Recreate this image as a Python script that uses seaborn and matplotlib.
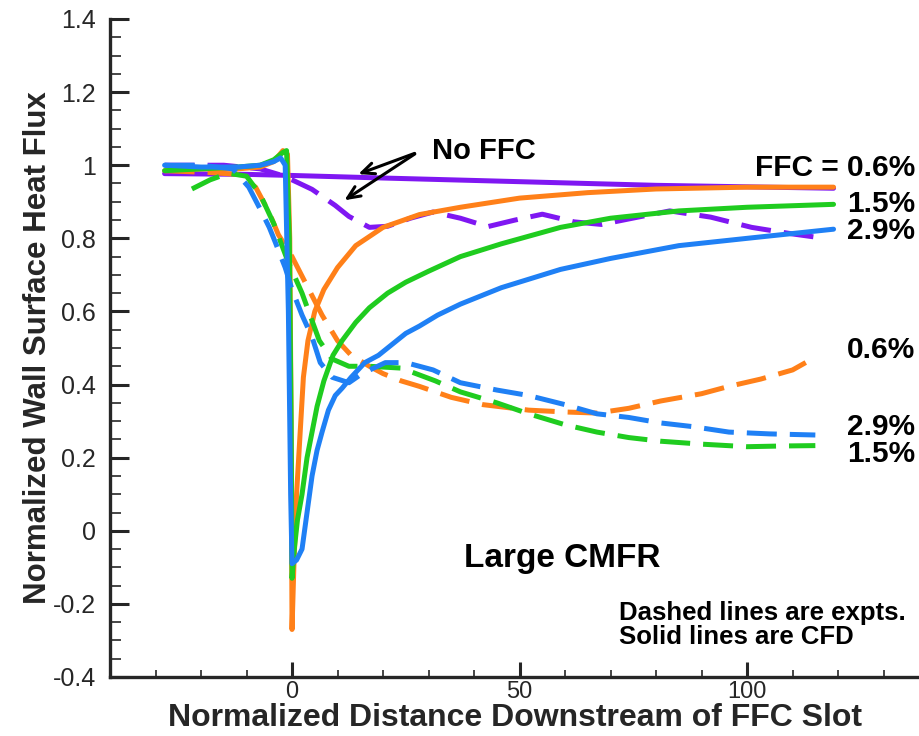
import numpy as np
import pandas as pd
import seaborn as sns
import matplotlib
matplotlib.use("Agg")
import matplotlib.pyplot as plt
from matplotlib.ticker import MultipleLocator, FixedLocator

# ---- CFD (solid) ----
nof_cfd_x = [-28, -10, 0, 20, 50, 80, 119]
nof_cfd_y = [0.977, 0.975, 0.972, 0.965, 0.955, 0.945, 0.937]

f06_cfd_x = [-28, -20, -12, -7, -4, -2, -1, -0.5, -0.2, 0, 0.4, 1, 1.7, 2.5, 3.5, 5, 7, 10, 14, 20, 28, 37, 50, 65, 80, 100, 119]
f06_cfd_y = [0.985, 0.99, 0.99, 0.995, 1.01, 1.04, 1.03, 0.8, 0.3, -0.27, -0.1, 0.1, 0.25, 0.42, 0.52, 0.6, 0.66, 0.72, 0.78, 0.83, 0.865, 0.885, 0.91, 0.925, 0.935, 0.94, 0.94]

f15_cfd_x = [-28, -20, -12, -7, -4, -2, -1.2, -0.6, -0.2, 0, 0.5, 1.2, 2.2, 3.3, 4.4, 5.5, 7, 9, 11, 14, 17, 21, 25, 30, 37, 46, 59, 70, 85, 100, 119]
f15_cfd_y = [0.985, 0.99, 0.995, 1.0, 1.015, 1.035, 1.04, 0.8, 0.3, -0.13, -0.05, 0.03, 0.1, 0.2, 0.27, 0.34, 0.41, 0.48, 0.52, 0.57, 0.61, 0.65, 0.68, 0.71, 0.75, 0.785, 0.83, 0.855, 0.875, 0.885, 0.893]

f29_cfd_x = [-28, -20, -12, -7, -4, -2.5, -1.5, -0.8, -0.3, 0, 1, 2.2, 3.3, 4.4, 5.5, 6.6, 8, 9.5, 11, 13, 16, 19, 22, 25, 28, 32, 37, 46, 59, 70, 85, 100, 119]
f29_cfd_y = [1.0, 0.995, 0.995, 1.0, 1.01, 1.02, 1.0, 0.6, 0.1, -0.09, -0.08, -0.05, 0.05, 0.15, 0.22, 0.27, 0.33, 0.37, 0.39, 0.42, 0.46, 0.48, 0.51, 0.54, 0.56, 0.59, 0.62, 0.665, 0.715, 0.745, 0.78, 0.80, 0.825]

# ---- experiments (dashed) ----
nof_exp_x = [-28, -15, -7, -3, 0, 4.4, 9.5, 12.5, 17, 21, 26, 31, 37, 43, 49, 55, 62, 68, 76, 83, 92, 101, 110, 117]
nof_exp_y = [1.0, 1.0, 0.99, 0.975, 0.96, 0.934, 0.89, 0.86, 0.83, 0.833, 0.855, 0.872, 0.855, 0.832, 0.85, 0.866, 0.845, 0.838, 0.858, 0.875, 0.858, 0.83, 0.812, 0.80]

f06_exp_x = [-28, -18, -12, -8, -5, -3, 0, 3.7, 6.6, 10, 13, 17, 20, 24, 28, 35, 42, 52, 60, 67, 74, 81, 90, 96, 103, 110, 115]
f06_exp_y = [0.985, 0.98, 0.975, 0.94, 0.87, 0.81, 0.75, 0.66, 0.59, 0.52, 0.48, 0.45, 0.43, 0.41, 0.395, 0.365, 0.345, 0.33, 0.325, 0.322, 0.335, 0.355, 0.375, 0.395, 0.415, 0.44, 0.475]

f15_exp_x = [-22, -18, -14, -10, -7, -4, -1, 2.2, 6, 8.8, 12.5, 17, 24, 31.5, 37, 45, 52, 60, 67, 74, 81, 90, 100, 108, 115]
f15_exp_y = [0.935, 0.96, 0.978, 0.97, 0.92, 0.84, 0.74, 0.65, 0.52, 0.47, 0.45, 0.45, 0.445, 0.41, 0.38, 0.35, 0.32, 0.29, 0.27, 0.255, 0.245, 0.237, 0.23, 0.232, 0.233]

f29_exp_x = [-28, -20, -13, -9.5, -7, -5, -3.7, -1.5, 0, 2.2, 4.4, 6.2, 8.8, 12.5, 15.4, 20.5, 25, 31, 37, 45, 52, 60, 67, 74, 81, 88, 96, 105, 115]
f29_exp_y = [1.0, 1.0, 0.99, 0.94, 0.88, 0.83, 0.79, 0.72, 0.66, 0.59, 0.53, 0.46, 0.42, 0.405, 0.43, 0.46, 0.46, 0.44, 0.405, 0.385, 0.37, 0.345, 0.32, 0.31, 0.295, 0.285, 0.27, 0.265, 0.262]

cases = ["No FFC", "0.6%", "1.5%", "2.9%"]
palette = {"No FFC": "#7F17F2", "0.6%": "#FF8019", "1.5%": "#1FCC1F", "2.9%": "#1F80F5"}

frames = []
def add(x, y, case, kind):
    frames.append(pd.DataFrame({"x": x, "y": y, "case": case, "kind": kind}))

add(nof_exp_x, nof_exp_y, "No FFC", "Expt")
add(f06_exp_x, f06_exp_y, "0.6%", "Expt")
add(f15_exp_x, f15_exp_y, "1.5%", "Expt")
add(f29_exp_x, f29_exp_y, "2.9%", "Expt")
add(nof_cfd_x, nof_cfd_y, "No FFC", "CFD")
add(f06_cfd_x, f06_cfd_y, "0.6%", "CFD")
add(f15_cfd_x, f15_cfd_y, "1.5%", "CFD")
add(f29_cfd_x, f29_cfd_y, "2.9%", "CFD")
df = pd.concat(frames, ignore_index=True)

sns.set_style("ticks")
plt.rcParams['font.family'] = ['Liberation Sans', 'DejaVu Sans']

fig = plt.figure(figsize=(9.2, 7.36), dpi=100)
ax = fig.add_axes([110/920, 59/736, 810/920, 658/736])

sns.lineplot(data=df, x="x", y="y", hue="case", style="kind", hue_order=cases,
             style_order=["CFD", "Expt"], palette=palette,
             dashes={"CFD": "", "Expt": (6, 2.6)}, sort=False, estimator=None,
             lw=3.6, legend=False, ax=ax)

ax.set_xlim(-40, 138)
ax.set_ylim(-0.4, 1.4)
ax.xaxis.set_major_locator(FixedLocator([0, 50, 100]))
ax.xaxis.set_minor_locator(MultipleLocator(10))
ax.yaxis.set_ticks([-0.4, -0.2, 0, 0.2, 0.4, 0.6, 0.8, 1.0, 1.2, 1.4])
ax.yaxis.set_minor_locator(MultipleLocator(0.05))
ax.set_yticklabels(["-0.4", "-0.2", "0", "0.2", "0.4", "0.6", "0.8", "1", "1.2", "1.4"])
ax.xaxis.set_ticklabels(["0", "50", "100"])

ax.tick_params(axis="y", which="major", direction="in", length=14, width=2.2, labelsize=18, pad=10)
ax.tick_params(axis="y", which="minor", direction="in", length=8, width=1.2)
ax.tick_params(axis="x", which="major", direction="in", length=11, width=2.2, labelsize=17, pad=3)
ax.tick_params(axis="x", which="minor", direction="in", length=5, width=1.2)

sns.despine(ax=ax)
for s in ["left", "bottom"]:
    ax.spines[s].set_linewidth(2.4)

ax.set_xlabel("Normalized Distance Downstream of FFC Slot", fontsize=23, fontweight="bold", labelpad=0)
ax.set_ylabel("Normalized Wall Surface Heat Flux", fontsize=22.5, fontweight="bold", labelpad=0)

bold = dict(fontweight="bold", color="black")
ax.text(30.8, 1.016, "No FFC", fontsize=21, ha="left", va="baseline", **bold)
arrow = dict(arrowstyle="->,head_length=0.9,head_width=0.4", lw=2.2, color="black")
ax.annotate("", xy=(14, 0.973), xytext=(27.5, 1.035), arrowprops=arrow)
ax.annotate("", xy=(11, 0.90), xytext=(27.5, 1.035), arrowprops=arrow)

rx = 137
ax.text(rx, 0.970, "FFC = 0.6%", fontsize=21.5, ha="right", va="baseline", **bold)
ax.text(rx, 0.871, "1.5%", fontsize=21.5, ha="right", va="baseline", **bold)
ax.text(rx, 0.797, "2.9%", fontsize=21.5, ha="right", va="baseline", **bold)
ax.text(rx, 0.474, "0.6%", fontsize=21.5, ha="right", va="baseline", **bold)
ax.text(rx, 0.263, "2.9%", fontsize=21.5, ha="right", va="baseline", **bold)
ax.text(rx, 0.189, "1.5%", fontsize=21.5, ha="right", va="baseline", **bold)

ax.text(59.3, -0.099, "Large CMFR", fontsize=24, ha="center", va="baseline", **bold)
ax.text(71.9, -0.244, "Dashed lines are expts.", fontsize=18.5, ha="left", va="baseline", **bold)
ax.text(71.9, -0.31, "Solid lines are CFD", fontsize=18.5, ha="left", va="baseline", **bold)

fig.savefig("out.png", dpi=100)
